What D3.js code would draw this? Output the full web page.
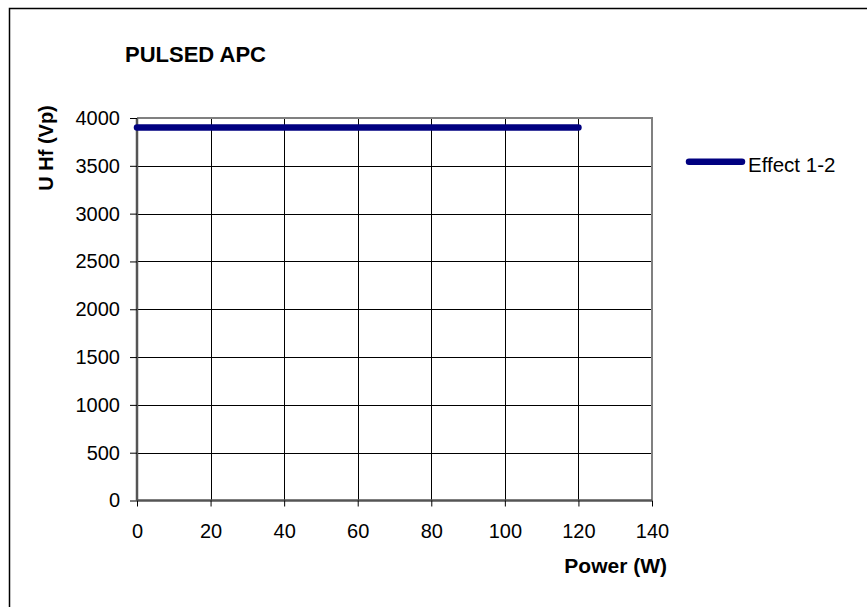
<!DOCTYPE html>
<html lang="en">
<head>
<meta charset="utf-8">
<title>PULSED APC</title>
<script src="https://cdn.jsdelivr.net/npm/d3@7"></script>
<style>
  body { margin: 0; background: #fff; }
  text { font-family: "Liberation Sans", Arial, sans-serif; fill: #000; }
</style>
</head>
<body>
<script>
// data
var seriesName = "Effect 1-2";
var powerValues = [0, 20, 40, 60, 80, 100, 120];
var voltageValues = [3900, 3900, 3900, 3900, 3900, 3900, 3900];
var xTicks = [0, 20, 40, 60, 80, 100, 120, 140];
var yTicks = [0, 500, 1000, 1500, 2000, 2500, 3000, 3500, 4000];

var w = 867, h = 607;
var plot = { left: 137, right: 652, top: 118, bottom: 500.5 };
var lineColor = "#000080";

var svg = d3.select("body").append("svg")
  .attr("width", w)
  .attr("height", h);

// outer chart frame (only top and left visible in frame)
svg.append("rect")
  .attr("x", 9.5).attr("y", 8.5)
  .attr("width", w + 10).attr("height", h + 10)
  .attr("fill", "none")
  .attr("stroke", "#000")
  .attr("stroke-width", 1.5);

var x = d3.scaleLinear().domain([0, 140]).range([plot.left, plot.right]);
var y = d3.scaleLinear().domain([0, 4000]).range([plot.bottom, plot.top]);

// gridlines
svg.append("g").selectAll("line")
  .data(xTicks.slice(1, -1))
  .enter().append("line")
  .attr("x1", function(d) { return Math.round(x(d)) + 0.5; })
  .attr("x2", function(d) { return Math.round(x(d)) + 0.5; })
  .attr("y1", plot.top).attr("y2", plot.bottom)
  .attr("stroke", "#000").attr("stroke-width", 1);

svg.append("g").selectAll("line")
  .data(yTicks.slice(1, -1))
  .enter().append("line")
  .attr("x1", plot.left).attr("x2", plot.right)
  .attr("y1", function(d) { return Math.round(y(d)) + 0.5; })
  .attr("y2", function(d) { return Math.round(y(d)) + 0.5; })
  .attr("stroke", "#000").attr("stroke-width", 1);

// plot frame: gray top/right
svg.append("path")
  .attr("d", "M" + plot.left + "," + plot.top + "H" + plot.right + "V" + plot.bottom)
  .attr("fill", "none")
  .attr("stroke", "#808080")
  .attr("stroke-width", 2);

// axes
var xAxis = d3.axisBottom(x).tickValues(xTicks).tickFormat(d3.format("d")).tickSize(6).tickPadding(17);
var yAxis = d3.axisLeft(y).tickValues(yTicks).tickFormat(d3.format("d")).tickSize(7).tickPadding(10);

var gx = svg.append("g")
  .attr("transform", "translate(0," + plot.bottom + ")")
  .call(xAxis);
var gy = svg.append("g")
  .attr("transform", "translate(" + plot.left + ",0)")
  .call(yAxis);

[gx, gy].forEach(function(g) {
  g.attr("font-size", null).attr("font-family", null);
  g.select(".domain").attr("stroke", "#555").attr("stroke-width", 2.5);
  g.selectAll(".tick line").attr("stroke", "#000");
  g.selectAll(".tick text")
    .attr("font-size", "20px")
    .attr("fill", "#000");
});
gx.select(".domain").attr("d", "M" + plot.left + ",0H" + plot.right);
gy.select(".domain").attr("d", "M0," + plot.bottom + "V" + plot.top);

// series line
var line = d3.line()
  .x(function(d, i) { return x(powerValues[i]); })
  .y(function(d) { return y(d); });

svg.append("path")
  .datum(voltageValues)
  .attr("d", line)
  .attr("fill", "none")
  .attr("stroke", lineColor)
  .attr("stroke-width", 6.5)
  .attr("stroke-linecap", "round");

// title
svg.append("text")
  .attr("x", 125).attr("y", 62)
  .attr("font-size", "22px")
  .attr("font-weight", "bold")
  .text("PULSED APC");

// axis titles
svg.append("text")
  .attr("transform", "translate(53,148) rotate(-90)")
  .attr("text-anchor", "middle")
  .attr("font-size", "20px")
  .attr("font-weight", "bold")
  .text("U Hf (Vp)");

svg.append("text")
  .attr("x", 667).attr("y", 573)
  .attr("text-anchor", "end")
  .attr("font-size", "21px")
  .attr("font-weight", "bold")
  .text("Power (W)");

// legend
svg.append("line")
  .attr("x1", 689).attr("x2", 742)
  .attr("y1", 161.7).attr("y2", 161.7)
  .attr("stroke", lineColor)
  .attr("stroke-width", 6.5)
  .attr("stroke-linecap", "round");

svg.append("text")
  .attr("x", 748).attr("y", 172)
  .attr("font-size", "20.5px")
  .text(seriesName);
</script>
</body>
</html>
